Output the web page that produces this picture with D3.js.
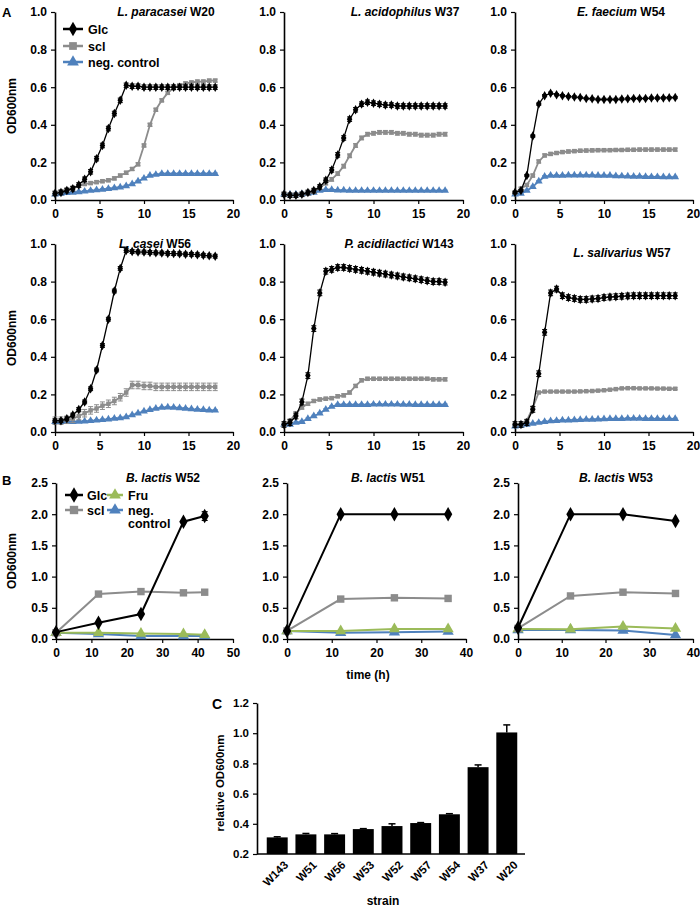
<!DOCTYPE html>
<html><head><meta charset="utf-8">
<script src="https://cdn.jsdelivr.net/npm/d3@7"></script>
<style>
body{margin:0;background:#fff;}
svg text{font-family:"Liberation Sans",Arial,sans-serif;font-weight:bold;fill:#000;}
</style></head><body>
<svg id="c" width="700" height="907"></svg>
<script>
// ---------------- DATA ----------------
const timeA = [0,0.67,1.33,2,2.67,3.33,4,4.67,5.33,6,6.67,7.33,8,8.67,9.33,10,10.67,11.33,12,12.67,13.33,14,14.67,15.33,16,16.67,17.33,18];
const seriesA = ["Glc","scl","neg. control"];

const W20_glc = [0.035,0.04,0.05,0.06,0.08,0.11,0.15,0.22,0.29,0.38,0.46,0.53,0.61,0.605,0.605,0.60,0.60,0.60,0.60,0.60,0.60,0.60,0.60,0.60,0.60,0.60,0.60,0.60];
const W20_scl = [0.035,0.045,0.055,0.065,0.075,0.085,0.09,0.095,0.10,0.105,0.115,0.13,0.145,0.165,0.19,0.29,0.40,0.48,0.53,0.57,0.595,0.61,0.62,0.625,0.63,0.63,0.635,0.635];
const W20_neg = [0.03,0.035,0.038,0.04,0.043,0.046,0.05,0.053,0.056,0.06,0.064,0.068,0.075,0.085,0.10,0.115,0.13,0.135,0.14,0.14,0.14,0.14,0.14,0.14,0.14,0.14,0.14,0.14];

const W37_glc = [0.03,0.025,0.025,0.03,0.04,0.05,0.07,0.105,0.16,0.24,0.33,0.43,0.48,0.51,0.52,0.515,0.51,0.505,0.505,0.50,0.50,0.50,0.50,0.50,0.50,0.50,0.50,0.50];
const W37_scl = [0.03,0.025,0.025,0.03,0.035,0.045,0.065,0.09,0.11,0.14,0.18,0.235,0.29,0.33,0.35,0.355,0.36,0.36,0.36,0.355,0.355,0.35,0.35,0.345,0.345,0.345,0.35,0.35];
const W37_neg = [0.03,0.03,0.03,0.032,0.035,0.04,0.05,0.055,0.055,0.052,0.052,0.05,0.05,0.05,0.05,0.05,0.05,0.05,0.05,0.05,0.05,0.05,0.05,0.05,0.05,0.05,0.05,0.05];

const W54_glc = [0.04,0.05,0.13,0.34,0.51,0.555,0.568,0.56,0.555,0.55,0.548,0.545,0.54,0.538,0.535,0.535,0.535,0.535,0.537,0.538,0.54,0.54,0.54,0.542,0.542,0.543,0.544,0.545];
const W54_scl = [0.04,0.06,0.08,0.13,0.205,0.237,0.245,0.25,0.255,0.258,0.26,0.262,0.263,0.264,0.265,0.265,0.265,0.266,0.266,0.267,0.267,0.268,0.268,0.268,0.268,0.268,0.268,0.268];
const W54_neg = [0.03,0.035,0.05,0.07,0.10,0.125,0.13,0.13,0.13,0.132,0.132,0.132,0.132,0.132,0.13,0.13,0.13,0.128,0.127,0.126,0.125,0.125,0.124,0.123,0.123,0.122,0.122,0.122];

const W56_glc = [0.06,0.06,0.07,0.09,0.12,0.16,0.23,0.33,0.46,0.60,0.75,0.87,0.965,0.96,0.958,0.957,0.955,0.953,0.952,0.95,0.949,0.948,0.946,0.945,0.943,0.94,0.937,0.935];
const W56_scl = [0.06,0.06,0.065,0.07,0.085,0.10,0.115,0.125,0.14,0.15,0.165,0.185,0.21,0.25,0.25,0.245,0.245,0.24,0.24,0.24,0.24,0.24,0.24,0.24,0.24,0.24,0.24,0.24];
const W56_neg = [0.055,0.055,0.055,0.055,0.056,0.057,0.06,0.062,0.065,0.068,0.072,0.075,0.08,0.09,0.10,0.11,0.118,0.125,0.13,0.132,0.13,0.128,0.125,0.122,0.12,0.118,0.116,0.115];

const W143_glc = [0.04,0.05,0.085,0.16,0.30,0.55,0.74,0.855,0.865,0.875,0.875,0.87,0.865,0.86,0.855,0.85,0.845,0.84,0.835,0.83,0.825,0.82,0.815,0.81,0.805,0.80,0.80,0.797];
const W143_scl = [0.04,0.06,0.10,0.13,0.15,0.165,0.173,0.177,0.18,0.19,0.195,0.21,0.245,0.275,0.283,0.283,0.283,0.283,0.283,0.283,0.283,0.283,0.283,0.283,0.283,0.28,0.28,0.28];
const W143_neg = [0.04,0.04,0.05,0.055,0.07,0.085,0.10,0.12,0.135,0.145,0.145,0.145,0.145,0.145,0.145,0.147,0.147,0.147,0.147,0.147,0.146,0.146,0.145,0.145,0.145,0.145,0.145,0.145];

const W57_glc = [0.04,0.04,0.05,0.12,0.31,0.53,0.74,0.76,0.725,0.715,0.71,0.705,0.705,0.708,0.71,0.715,0.718,0.72,0.722,0.724,0.725,0.725,0.725,0.725,0.725,0.725,0.725,0.725];
const W57_scl = [0.04,0.04,0.06,0.13,0.21,0.215,0.215,0.215,0.215,0.215,0.215,0.216,0.217,0.218,0.22,0.222,0.225,0.228,0.232,0.233,0.233,0.232,0.232,0.232,0.231,0.231,0.23,0.23];
const W57_neg = [0.03,0.035,0.04,0.045,0.05,0.055,0.058,0.06,0.062,0.063,0.064,0.065,0.066,0.067,0.068,0.069,0.07,0.07,0.07,0.072,0.072,0.072,0.071,0.071,0.07,0.07,0.07,0.07];

// error-bar half widths per series [Glc, scl, neg]
const W20_err = [0.012,0.008,0.004];
const W37_err = [0.012,0.01,0.003];
const W54_err = [0.006,0.008,0.004];
const W56_err = [0.01,0.02,0.004];
const W143_err = [0.015,0.008,0.004];
const W57_err = [0.015,0.005,0.004];

const timeB52 = [0,12,24,36,42];
const timeB = [0,12,24,36];
const seriesB = ["Glc","scl","Fru","neg.\ncontrol"];
const W52_glc = [0.11,0.26,0.40,1.88,1.97];
const W52_scl = [0.10,0.72,0.76,0.74,0.75];
const W52_fru = [0.10,0.10,0.09,0.08,0.07];
const W52_neg = [0.10,0.08,0.05,0.05,0.05];
const W51_glc = [0.13,2.0,2.0,2.0];
const W51_scl = [0.13,0.64,0.66,0.65];
const W51_fru = [0.13,0.13,0.16,0.16];
const W51_neg = [0.13,0.10,0.11,0.12];
const W53_glc = [0.18,2.0,2.0,1.89];
const W53_scl = [0.17,0.69,0.75,0.73];
const W53_fru = [0.16,0.155,0.20,0.17];
const W53_neg = [0.145,0.145,0.135,0.065];
const W52_glcErr = [0,0,0,0,0.07];

const strains = ["W143","W51","W56","W53","W52","W57","W54","W37","W20"];
const relOD = [0.31,0.33,0.33,0.365,0.385,0.405,0.463,0.775,1.005];
const relErr = [0.004,0.006,0.005,0.003,0.015,0.003,0.004,0.015,0.05];

const ticksA_x = [0,5,10,15,20];
const ticksA_y = [0,0.2,0.4,0.6,0.8,1.0];
const ticksB_y = [0,0.5,1.0,1.5,2.0,2.5];
const ticksC_y = [0.2,0.4,0.6,0.8,1.0,1.2];

// ---------------- DRAW ----------------
const svg = d3.select("#c");
const fmt = d3.format(".1f");
const BLACK="#000", GRAY="#8c8c8c", BLUE="#4f81bd", GREEN="#9bbb59";

function styleAxis(g){
  g.selectAll(".domain").attr("stroke","#000").attr("stroke-width",1.6);
  g.selectAll(".tick line").attr("stroke","#000").attr("stroke-width",1.2);
  g.selectAll(".tick text").style("font-size","12px").style("font-family","Liberation Sans, Arial, sans-serif").style("font-weight","bold");
}

function title(x,y,sp,strain){
  const t = svg.append("text").attr("x",x).attr("y",y).attr("text-anchor","middle").style("font-size","12px");
  t.append("tspan").style("font-style","italic").text(sp);
  t.append("tspan").text(" "+strain);
}

function panelA(cfg){
  const x = d3.scaleLinear().domain([0,20]).range([cfg.x0,cfg.x1]);
  const y = d3.scaleLinear().domain([0,1]).range([cfg.yb,cfg.yt]);
  const gx = svg.append("g").attr("transform",`translate(0,${cfg.yb})`)
    .call(d3.axisBottom(x).tickValues(ticksA_x).tickSize(4).tickPadding(5).tickSizeOuter(0));
  styleAxis(gx);
  const gy = svg.append("g").attr("transform",`translate(${cfg.x0},0)`)
    .call(d3.axisLeft(y).tickValues(ticksA_y).tickFormat(fmt).tickSize(4).tickPadding(4).tickSizeOuter(0));
  styleAxis(gy);
  const defs = [
    {v:cfg.neg, c:BLUE, sym:d3.symbolTriangle, sz:26, w:1.8, e:cfg.err[2]},
    {v:cfg.scl, c:GRAY, sym:d3.symbolSquare, sz:20, w:1.8, e:cfg.err[1]},
    {v:cfg.glc, c:BLACK, sym:d3.symbolDiamond, sz:26, w:1.3, e:cfg.err[0]}
  ];
  defs.forEach(d=>{
    const pts = timeA.map((t,i)=>[t,d.v[i]]);
    svg.append("path").datum(pts).attr("fill","none").attr("stroke",d.c).attr("stroke-width",d.w)
      .attr("d",d3.line().x(p=>x(p[0])).y(p=>y(p[1])));
    if(d.e>0){
      const eg = svg.append("g").attr("stroke",d.c).attr("stroke-width",1);
      pts.forEach(p=>{
        eg.append("line").attr("x1",x(p[0])).attr("x2",x(p[0])).attr("y1",y(p[1]-d.e)).attr("y2",y(p[1]+d.e));
        eg.append("line").attr("x1",x(p[0])-2.5).attr("x2",x(p[0])+2.5).attr("y1",y(p[1]+d.e)).attr("y2",y(p[1]+d.e));
        eg.append("line").attr("x1",x(p[0])-2.5).attr("x2",x(p[0])+2.5).attr("y1",y(p[1]-d.e)).attr("y2",y(p[1]-d.e));
      });
    }
    svg.append("g").selectAll("path").data(pts).join("path")
      .attr("transform",p=>`translate(${x(p[0])},${y(p[1])})`)
      .attr("d",d3.symbol().type(d.sym).size(d.sz)).attr("fill",d.c);
  });
  title(cfg.tx,cfg.ty,cfg.sp,cfg.st);
}

const rowA1 = {yt:12, yb:200};
const rowA2 = {yt:244, yb:432};
panelA({...rowA1,x0:55,x1:233,glc:W20_glc,scl:W20_scl,neg:W20_neg,err:W20_err,sp:"L. paracasei",st:"W20",tx:166,ty:16});
panelA({...rowA1,x0:284,x1:463,glc:W37_glc,scl:W37_scl,neg:W37_neg,err:W37_err,sp:"L. acidophilus",st:"W37",tx:405,ty:16});
panelA({...rowA1,x0:515,x1:693,glc:W54_glc,scl:W54_scl,neg:W54_neg,err:W54_err,sp:"E. faecium",st:"W54",tx:621,ty:16});
panelA({...rowA2,x0:55,x1:233,glc:W56_glc,scl:W56_scl,neg:W56_neg,err:W56_err,sp:"L. casei",st:"W56",tx:155,ty:248});
panelA({...rowA2,x0:284,x1:463,glc:W143_glc,scl:W143_scl,neg:W143_neg,err:W143_err,sp:"P. acidilactici",st:"W143",tx:399,ty:248});
panelA({...rowA2,x0:515,x1:693,glc:W57_glc,scl:W57_scl,neg:W57_neg,err:W57_err,sp:"L. salivarius",st:"W57",tx:622,ty:257});

// legend A
function legItem(x,y,c,sym,sz,w,len,label){
  svg.append("line").attr("x1",x).attr("x2",x+len).attr("y1",y).attr("y2",y).attr("stroke",c).attr("stroke-width",w);
  svg.append("path").attr("transform",`translate(${x+len/2},${y})`).attr("d",d3.symbol().type(sym).size(sz)).attr("fill",c);
}
const legA = [[BLACK,d3.symbolDiamond],[GRAY,d3.symbolSquare],[BLUE,d3.symbolTriangle]];
[29,46,62].forEach((yy,i)=>{
  legItem(63,yy,legA[i][0],legA[i][1],60,2.5,20);
  svg.append("text").attr("x",88).attr("y",yy+4.5).style("font-size","12.5px").text(seriesA[i]);
});

// row B
function panelB(cfg){
  const x = d3.scaleLinear().domain([0,cfg.xmax]).range([cfg.x0,cfg.x1]);
  const y = d3.scaleLinear().domain([0,2.5]).range([639,483]);
  const gx = svg.append("g").attr("transform",`translate(0,639)`)
    .call(d3.axisBottom(x).ticks(cfg.xmax/10).tickSize(4).tickPadding(5).tickSizeOuter(0));
  styleAxis(gx);
  const gy = svg.append("g").attr("transform",`translate(${cfg.x0},0)`)
    .call(d3.axisLeft(y).tickValues(ticksB_y).tickFormat(fmt).tickSize(4).tickPadding(4).tickSizeOuter(0));
  styleAxis(gy);
  const defs = [
    {v:cfg.neg, c:BLUE, sym:d3.symbolTriangle, sz:55},
    {v:cfg.fru, c:GREEN, sym:d3.symbolTriangle, sz:55},
    {v:cfg.scl, c:GRAY, sym:d3.symbolSquare, sz:55},
    {v:cfg.glc, c:BLACK, sym:d3.symbolDiamond, sz:60}
  ];
  defs.forEach(d=>{
    const pts = cfg.t.map((t,i)=>[t,d.v[i]]);
    svg.append("path").datum(pts).attr("fill","none").attr("stroke",d.c).attr("stroke-width",2)
      .attr("d",d3.line().x(p=>x(p[0])).y(p=>y(p[1])));
    svg.append("g").selectAll("path").data(pts).join("path")
      .attr("transform",p=>`translate(${x(p[0])},${y(p[1])})`)
      .attr("d",d3.symbol().type(d.sym).size(d.sz)).attr("fill",d.c);
  });
  if(cfg.gerr){
    const eg = svg.append("g").attr("stroke","#000").attr("stroke-width",1.2);
    cfg.t.forEach((t,i)=>{
      const e = cfg.gerr[i]; if(!e) return;
      const xx = x(t), v = cfg.glc[i];
      eg.append("line").attr("x1",xx).attr("x2",xx).attr("y1",y(v-e)).attr("y2",y(v+e));
      eg.append("line").attr("x1",xx-3).attr("x2",xx+3).attr("y1",y(v+e)).attr("y2",y(v+e));
      eg.append("line").attr("x1",xx-3).attr("x2",xx+3).attr("y1",y(v-e)).attr("y2",y(v-e));
    });
  }
  title(cfg.tx,482,"B. lactis",cfg.st);
}
panelB({x0:56,x1:233,xmax:50,t:timeB52,glc:W52_glc,scl:W52_scl,fru:W52_fru,neg:W52_neg,gerr:W52_glcErr,st:"W52",tx:163});
panelB({x0:287,x1:466,xmax:40,t:timeB,glc:W51_glc,scl:W51_scl,fru:W51_fru,neg:W51_neg,st:"W51",tx:388});
panelB({x0:518,x1:693,xmax:40,t:timeB,glc:W53_glc,scl:W53_scl,fru:W53_fru,neg:W53_neg,st:"W53",tx:616});

// legend B
legItem(65,495,BLACK,d3.symbolDiamond,70,2.5,18);
svg.append("text").attr("x",87).attr("y",499.5).style("font-size","12.5px").text(seriesB[0]);
legItem(65,510,GRAY,d3.symbolSquare,70,2.5,18);
svg.append("text").attr("x",87).attr("y",514.5).style("font-size","12.5px").text(seriesB[1]);
legItem(107,495,GREEN,d3.symbolTriangle,60,2.5,16);
svg.append("text").attr("x",128).attr("y",499.5).style("font-size","12.5px").text(seriesB[2]);
legItem(107,510,BLUE,d3.symbolTriangle,60,2.5,16);
const nl = seriesB[3].split("\n");
svg.append("text").attr("x",128).attr("y",514.5).style("font-size","12.5px").text(nl[0]);
svg.append("text").attr("x",128).attr("y",527.5).style("font-size","12.5px").text(nl[1]);

// axis titles & panel letters
function ylab(x,y,txt,fs){
  svg.append("text").attr("transform",`translate(${x},${y}) rotate(-90)`).attr("text-anchor","middle").style("font-size",fs).text(txt);
}
ylab(16,106,"OD600nm","12px");
ylab(16,338,"OD600nm","12px");
ylab(16,561,"OD600nm","12px");
svg.append("text").attr("x",368).attr("y",679).attr("text-anchor","middle").style("font-size","12px").text("time (h)");
svg.append("text").attr("x",2).attr("y",17).style("font-size","13px").text("A");
svg.append("text").attr("x",2).attr("y",485).style("font-size","13px").text("B");
svg.append("text").attr("x",212).attr("y",709).style("font-size","14px").text("C");

// panel C
const xc = d3.scaleBand().domain(strains).range([259,525]).padding(0.27);
const yc = d3.scaleLinear().domain([0.2,1.2]).range([854,703]);
const gcy = svg.append("g").attr("transform","translate(257,0)")
  .call(d3.axisLeft(yc).tickValues(ticksC_y).tickFormat(fmt).tickSize(4).tickPadding(4).tickSizeOuter(0));
styleAxis(gcy);
gcy.selectAll(".tick text").style("font-size","11.5px");
svg.append("g").selectAll("rect").data(strains).join("rect")
  .attr("x",d=>xc(d)).attr("width",xc.bandwidth())
  .attr("y",(d,i)=>yc(relOD[i])).attr("height",(d,i)=>yc(0.2)-yc(relOD[i])).attr("fill","#000");
const ceg = svg.append("g").attr("stroke","#000").attr("stroke-width",1.5);
strains.forEach((s,i)=>{
  const cx = xc(s)+xc.bandwidth()/2;
  ceg.append("line").attr("x1",cx).attr("x2",cx).attr("y1",yc(relOD[i])).attr("y2",yc(relOD[i]+relErr[i]));
  ceg.append("line").attr("x1",cx-3.5).attr("x2",cx+3.5).attr("y1",yc(relOD[i]+relErr[i])).attr("y2",yc(relOD[i]+relErr[i]));
});
const gcx = svg.append("g").attr("transform","translate(0,854)")
  .call(d3.axisBottom(xc).tickSize(0).tickSizeOuter(0).tickPadding(0));
styleAxis(gcx);
gcx.select(".domain").attr("d","M257,0H525");
gcx.selectAll(".tick text").style("font-size","11.5px").attr("text-anchor","end")
  .attr("transform","translate(6,6) rotate(-45)").attr("dy","0.7em");
ylab(224,783,"relative OD600nm","11.5px");
svg.append("text").attr("x",383).attr("y",905).attr("text-anchor","middle").style("font-size","12px").text("strain");
</script></body></html>
